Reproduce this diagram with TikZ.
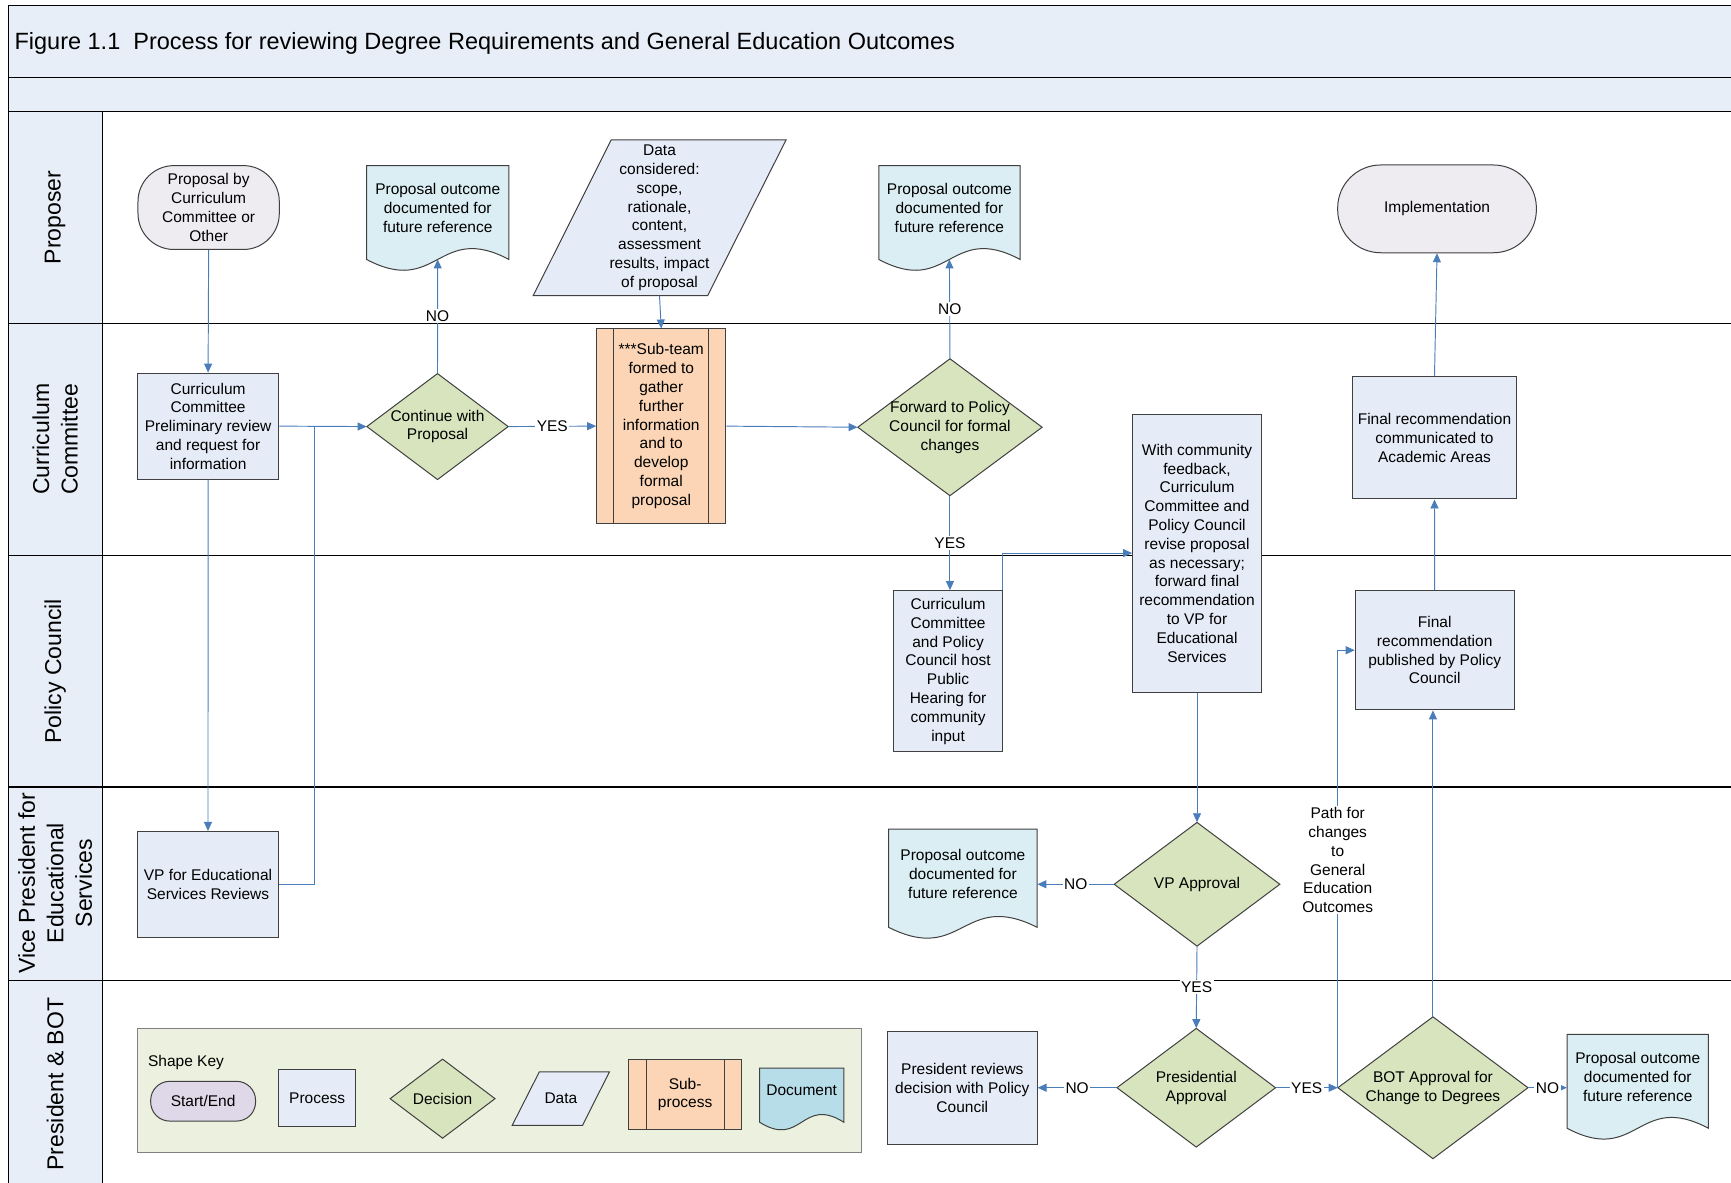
\documentclass[tikz,border=0pt]{standalone}
\usepackage{fontspec}
\setmainfont{Liberation Sans}
\usetikzlibrary{arrows.meta,calc}

\definecolor{bandfill}{HTML}{E8EEF7}
\definecolor{procfill}{HTML}{E6ECF7}
\definecolor{decfill}{HTML}{D7E4BD}
\definecolor{docfill}{HTML}{DBEEF4}
\definecolor{termfill}{HTML}{EEEBF1}
\definecolor{subfill}{HTML}{FBD5B5}
\definecolor{keyfill}{HTML}{EBF1DE}
\definecolor{keyterm}{HTML}{DFD8E8}
\definecolor{keydoc}{HTML}{B7DDE8}
\definecolor{flow}{HTML}{4A7EBB}
\definecolor{edge}{HTML}{404040}

\tikzset{
  every node/.style={font=\fontsize{15.5}{18.8}\selectfont, inner sep=0pt, align=center},
  sized/.style 2 args={minimum width={(#1)*1.104pt}, minimum height={(#2)*1.104pt}},
  shp/.style={draw=edge, line width=1pt},
  proc/.style={shp, fill=procfill, rectangle},
  term/.style={shp, fill=termfill, rectangle},
  subproc/.style={shp, fill=subfill, rectangle},
  flowline/.style={draw=flow, line width=0.95pt, -{Triangle[length=9pt,width=8pt]}},
  plainflow/.style={draw=flow, line width=0.95pt},
  lab/.style={fill=white, inner sep=1.5pt},
  lane/.style={draw=black, line width=1.3pt},
  lanelabel/.style={font=\fontsize{23}{28.5}\selectfont, rotate=90},
}

% decision: name, cx, cy, width, height, text
\newcommand\decision[6]{%
  \path[shp, fill=decfill] ({#2-(#4)/2},#3) -- (#2,{#3-(#5)/2}) -- ({#2+(#4)/2},#3) -- (#2,{#3+(#5)/2}) -- cycle;
  \node[sized={#4}{#5}] (#1) at (#2,#3) {#6};
}
% document: name, x0, y0, x1, y1, wave amplitude, fill, text
\newcommand\docshape[8]{%
  \path[shp, fill=#7] (#2,#3) -- (#4,#3) -- (#4,#5)
     .. controls ({(#2+#4)/2},{#5-2*#6}) and ({(#2+#4)/2},{#5+2*#6}) .. (#2,#5) -- cycle;
  \node[sized={#4-#2}{#5-#3-8}] (#1) at ({(#2+#4)/2},{(#3+#5-8)/2}) {#8};
  \coordinate (#1-b) at ({(#2+#4)/2},#5);
}
% data: name, top-left x, top-right x, top y, bottom-left x, bottom-right x, bottom y, text
\newcommand\datashape[8]{%
  \path[shp, fill=procfill] (#2,#4) -- (#3,#4) -- (#6,#7) -- (#5,#7) -- cycle;
  \node[sized={#3-#5}{#7-#4}] (#1) at ({(#2+#3+#5+#6)/4},{(#4+#7)/2}) {#8};
}

\begin{document}
\begin{tikzpicture}[x=1.104pt, y=-1.104pt]
\useasboundingbox (0,0) rectangle (1568,1071);
\clip (0,0) rectangle (1568,1071);

% swimlane frame
\fill[bandfill] (8,5) rectangle (1600,101);
\fill[bandfill] (8,101) rectangle (93,1100);
\draw[lane] (8,1100) -- (8,5) -- (1600,5);
\foreach \yy in {70,101,293,503,713,888,1076} \draw[lane] (8,\yy) -- (1600,\yy);
\draw[lane] (93,101) -- (93,1100);

\node[anchor=west, font=\fontsize{23.5}{28}\selectfont] (title) at (13,39.5)
  {Figure 1.1\ \ Process for reviewing Degree Requirements and General Education Outcomes};

\node[lanelabel] (l1) at (50,197) {Proposer};
\node[lanelabel] (l2) at (50,398) {Curriculum\\Committee};
\node[lanelabel] (l3) at (50,608) {Policy Council};
\node[lanelabel] (l4) at (50,800) {Vice President for\\Educational\\Services};
\node[lanelabel] (l5) at (50,982) {President \& BOT};

% shape key
\node[draw=gray, line width=0.8pt, fill=keyfill, sized={655.6}{112.2}] (key) at (452.2,987.6) {};
\node[anchor=west] (keytitle) at (134,962.5) {Shape Key};
\node[term, fill=keyterm, rounded corners=19pt, sized={95}{36}] (kterm) at (184,997.5) {Start/End};
\node[proc, sized={70}{52.4}] (kproc) at (287.3,994.6) {Process};
\decision{kdec}{400.9}{995.2}{95}{71.6}{Decision}
\datashape{kdata}{488.5}{552}{971}{464}{527.7}{1019.3}{Data}
\node[subproc, sized={102.8}{63.8}] (ksub) at (620.6,991.4) {Sub-\\process};
\draw[shp] ($(ksub.north west)+(16.8,0)$) -- ($(ksub.south west)+(16.8,0)$);
\draw[shp] ($(ksub.north east)-(16,0)$) -- ($(ksub.south east)-(16,0)$);
\docshape{kdoc}{688}{967.5}{764.3}{1016.5}{12}{keydoc}{Document}

% Proposer lane
\node[term, rounded corners=36pt, sized={128}{76}] (start) at (189,188)
  {Proposal by\\Curriculum\\Committee or\\Other};
\docshape{doc1}{332}{150}{461}{235}{17}{docfill}{Proposal outcome\\documented for\\future reference}
\datashape{data}{553.6}{712}{126.8}{483}{641}{267.8}
  {Data\\considered:\\scope,\\rationale,\\content,\\assessment\\results, impact\\of proposal}
\docshape{doc2}{796}{150}{924}{235}{17}{docfill}{Proposal outcome\\documented for\\future reference}
\node[term, rounded corners=43pt, sized={180}{79.5}] (impl) at (1301.7,189.2) {Implementation};

% Curriculum Committee lane
\node[proc, sized={128}{96}] (ccrev) at (188.5,386)
  {Curriculum\\Committee\\Preliminary review\\and request for\\information};
\decision{cont}{396.3}{386.4}{128}{96}{Continue with\\Proposal}
\node[subproc, sized={117}{176}] (sub) at (599,386)
  {***Sub-team\\formed to\\gather\\further\\information\\and to\\develop\\formal\\proposal};
\draw[shp] ($(sub.north west)+(15.5,0)$) -- ($(sub.south west)+(15.5,0)$);
\draw[shp] ($(sub.north east)-(16,0)$) -- ($(sub.south east)-(16,0)$);
\decision{fwd}{860.5}{387}{167}{124}{Forward to Policy\\Council for formal\\changes}
\node[proc, sized={116.6}{251.7}] (comm) at (1084.3,501)
  {With community\\feedback,\\Curriculum\\Committee and\\Policy Council\\revise proposal\\as necessary;\\forward final\\recommendation\\to VP for\\Educational\\Services};
\node[proc, sized={149.3}{111}] (fin) at (1299.4,396.5)
  {Final recommendation\\communicated to\\Academic Areas};

% Policy Council lane
\node[proc, sized={98.5}{146}] (hear) at (858.8,608)
  {Curriculum\\Committee\\and Policy\\Council host\\Public\\Hearing for\\community\\input};
\node[proc, sized={144}{108}] (pub) at (1299.6,589)
  {Final\\recommendation\\published by Policy\\Council};

% Vice President lane
\node[proc, sized={127.8}{95.7}] (vprev) at (188.4,801) {VP for Educational\\Services Reviews};
\docshape{vpdoc}{805}{751}{939.5}{840}{17}{docfill}{Proposal outcome\\documented for\\future reference}
\decision{vpok}{1084.3}{801}{150}{112}{VP Approval}

% President & BOT lane
\node[proc, sized={135.4}{102.5}] (prrev) at (871.7,985.3)
  {President reviews\\decision with Policy\\Council};
\decision{pres}{1083.6}{985.3}{143.6}{107.5}{Presidential\\Approval}
\decision{bot}{1298}{985.3}{172.2}{128.5}{BOT Approval for\\Change to Degrees}
\docshape{doc3}{1419.5}{937}{1547.5}{1022}{17}{docfill}{Proposal outcome\\documented for\\future reference}

% connectors
\coordinate (j1) at (285,386);
\draw[flowline] (start.south) -- (ccrev.north);
\draw[flowline] (ccrev.east) -- (cont.west);
\draw[plainflow] (vprev.east) -| (j1);
\draw[flowline] (ccrev.south) -- (vprev.north);
\draw[flowline] (cont.north) -- node[lab]{NO} (doc1-b);
\draw[flowline] (cont.east) -- node[lab]{YES} (sub.west);
\draw[flowline] (data.south) -- (sub.north);
\draw[flowline] (sub.east) -- (fwd.west);
\draw[flowline] (fwd.north) -- node[lab]{NO} (doc2-b);
\draw[flowline] (fwd.south) -- node[lab]{YES} (fwd.south |- hear.north);
\draw[flowline] (hear.north east) |- (comm.west);
\draw[flowline] (comm.south) -- (vpok.north);
\draw[flowline] (vpok.west) -- node[lab]{NO} (vpok.west -| vpdoc.east);
\draw[flowline] (vpok.south) -- node[lab]{YES} (pres.north);
\draw[flowline] (pres.west) -- node[lab]{NO} (pres.west -| prrev.east);
\draw[flowline] (pres.east) -- node[lab]{YES} (bot.west);
\draw[flowline] (bot.west) |- node[lab, pos=0.26]{Path for\\changes\\to\\General\\Education\\Outcomes} (pub.west);
\draw[flowline] (bot.north) -- (bot.north |- pub.south);
\draw[flowline] (pub.north) -- (fin.south);
\draw[flowline] (fin.north) -- (impl.south);
\draw[flowline] (bot.east) -- node[lab]{NO} (bot.east -| doc3.west);
\end{tikzpicture}
\end{document}
